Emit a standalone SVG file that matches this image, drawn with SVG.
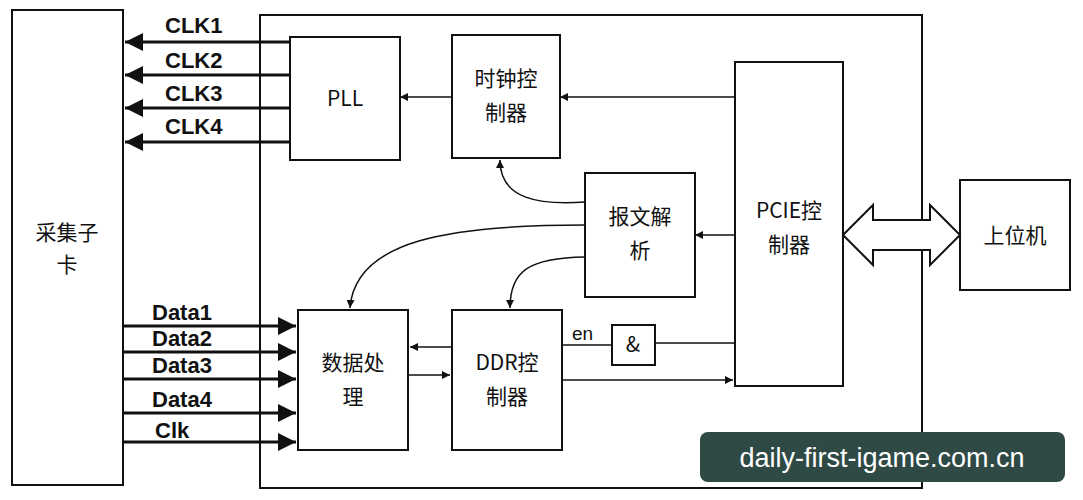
<svg xmlns="http://www.w3.org/2000/svg" width="1083" height="500" viewBox="0 0 1083 500">
<style>
.b{fill:#fff;stroke:#111;stroke-width:2}
.t{font-family:"Noto Sans CJK SC","Liberation Sans",sans-serif;font-size:21px;fill:#111;text-anchor:middle}
.l{font-family:"Liberation Sans",sans-serif;font-size:22px;font-weight:bold;fill:#111}
.c{fill:none;stroke:#111;stroke-width:1.5}
.k{fill:none;stroke:#111;stroke-width:3}
</style>
<defs>
<marker id="a" viewBox="0 0 10 10" refX="10" refY="5" markerWidth="8" markerHeight="8" markerUnits="userSpaceOnUse" orient="auto"><path d="M0,0L10,5L0,10z" fill="#111"/></marker>
<marker id="A" viewBox="0 0 10 10" refX="10" refY="5" markerWidth="6" markerHeight="6" orient="auto"><path d="M0,0L10,5L0,10z" fill="#111"/></marker>
</defs>
<rect width="1083" height="500" fill="#fff"/>
<g id="outer"><rect class="b" x="260" y="15" width="662" height="473"/></g>
<g id="card"><rect class="b" x="12" y="10" width="111" height="475"/><text class="t" x="67" y="240">采集子</text><text class="t" x="67" y="272">卡</text></g>
<g id="pll"><rect class="b" x="290" y="37" width="110" height="123"/><text class="t" x="345" y="106">PLL</text></g>
<g id="clkctl"><rect class="b" x="452" y="35" width="108" height="123"/><text class="t" x="506" y="86">时钟控</text><text class="t" x="506" y="120">制器</text></g>
<g id="pcie"><rect class="b" x="735" y="62" width="108" height="324"/><text class="t" x="789" y="218">PCIE控</text><text class="t" x="789" y="252">制器</text></g>
<g id="parse"><rect class="b" x="585" y="173" width="110" height="124"/><text class="t" x="640" y="224">报文解</text><text class="t" x="640" y="258">析</text></g>
<g id="dp"><rect class="b" x="298" y="310" width="110" height="140"/><text class="t" x="353" y="370">数据处</text><text class="t" x="353" y="404">理</text></g>
<g id="ddr"><rect class="b" x="452" y="310" width="110" height="140"/><text class="t" x="507" y="370">DDR控</text><text class="t" x="507" y="404">制器</text></g>
<g id="and"><rect class="b" x="612" y="325" width="43" height="40"/><text class="t" x="633" y="352">&amp;</text></g>
<g id="host"><rect class="b" x="960" y="180" width="110" height="110"/><text class="t" x="1015" y="243">上位机</text></g>
<g id="connectors">
<line class="k" x1="290" y1="42" x2="125" y2="42" marker-end="url(#A)"/>
<line class="k" x1="290" y1="75" x2="125" y2="75" marker-end="url(#A)"/>
<line class="k" x1="290" y1="108" x2="125" y2="108" marker-end="url(#A)"/>
<line class="k" x1="290" y1="142" x2="125" y2="142" marker-end="url(#A)"/>
<text class="l" x="165" y="33">CLK1</text><text class="l" x="165" y="68">CLK2</text><text class="l" x="165" y="101">CLK3</text><text class="l" x="165" y="134">CLK4</text>
<line class="k" x1="123" y1="326" x2="296" y2="326" marker-end="url(#A)"/>
<line class="k" x1="123" y1="352" x2="296" y2="352" marker-end="url(#A)"/>
<line class="k" x1="123" y1="379" x2="296" y2="379" marker-end="url(#A)"/>
<line class="k" x1="123" y1="413" x2="296" y2="413" marker-end="url(#A)"/>
<line class="k" x1="123" y1="442" x2="296" y2="442" marker-end="url(#A)"/>
<text class="l" x="152" y="320">Data1</text><text class="l" x="152" y="346">Data2</text><text class="l" x="152" y="373">Data3</text><text class="l" x="152" y="407">Data4</text><text class="l" x="155" y="438">Clk</text>
<line class="c" x1="452" y1="97" x2="400" y2="97" marker-end="url(#a)"/>
<line class="c" x1="735" y1="97" x2="560" y2="97" marker-end="url(#a)"/>
<line class="c" x1="735" y1="235" x2="695" y2="235" marker-end="url(#a)"/>
<path class="c" d="M585,202C540,205 500,200 500,160" marker-end="url(#a)"/>
<path class="c" d="M585,225C450,225 355,240 350,308" marker-end="url(#a)"/>
<path class="c" d="M585,257C530,258 510,270 510,308" marker-end="url(#a)"/>
<line class="c" x1="452" y1="347" x2="410" y2="347" marker-end="url(#a)"/>
<line class="c" x1="408" y1="375" x2="450" y2="375" marker-end="url(#a)"/>
<line class="c" x1="562" y1="345" x2="612" y2="345"/>
<text x="572" y="340" style="font-family:'Liberation Sans',sans-serif;font-size:19px;fill:#111">en</text>
<line class="c" x1="735" y1="343" x2="655" y2="343"/>
<line class="c" x1="562" y1="380" x2="733" y2="380" marker-end="url(#a)"/>
<path d="M843,235L873,205V220H930V205L960,235L930,265V250H873V265Z" fill="#fff" stroke="#111" stroke-width="2"/>
</g>
<g id="watermark"><rect x="700" y="432" width="365" height="50" rx="8" fill="#2f4a45"/><text x="882" y="467" style="font-family:'Liberation Sans',sans-serif;font-size:27px;fill:#fff;text-anchor:middle">daily-first-igame.com.cn</text></g>
</svg>
